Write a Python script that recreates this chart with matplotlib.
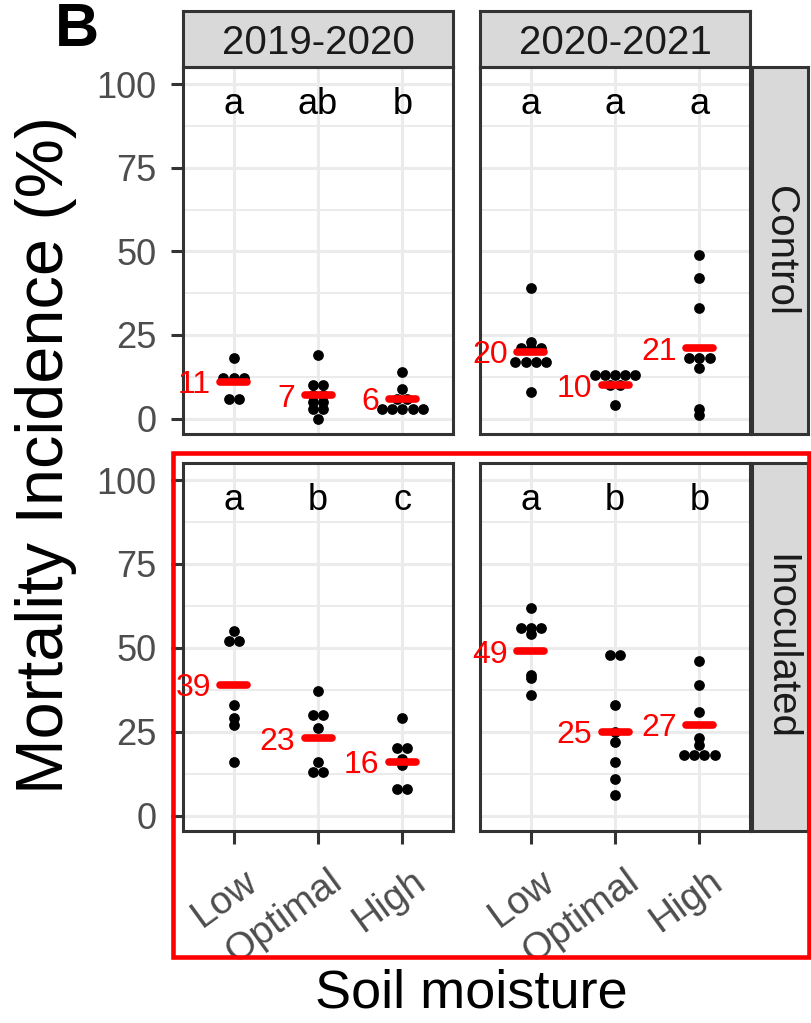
import numpy as np
import matplotlib.pyplot as plt
from matplotlib.patches import Rectangle
from matplotlib.transforms import ScaledTranslation

plt.rcParams['font.family'] = ['Liberation Sans', 'DejaVu Sans']

W, H = 812, 1023

years = ['2019-2020', '2020-2021']
treatments = ['Control', 'Inoculated']
moisture = ['Low', 'Optimal', 'High']

# mortality incidence (%) per plot, listed Low / Optimal / High
control_1920 = [[18, 12, 12, 12, 6, 6],
                [19, 10, 10, 7, 7, 5, 5, 3, 3, 0],
                [14, 9, 6, 6, 3, 3, 3, 3, 3]]
control_2021 = [[39, 23, 21, 21, 21, 17, 17, 17, 17, 8],
                [13, 13, 13, 13, 13, 10, 10, 4],
                [49, 42, 33, 18, 18, 18, 15, 3, 1]]
inoc_1920 = [[55, 52, 52, 33, 29, 27, 16],
             [37, 30, 30, 26, 16, 13, 13],
             [29, 20, 20, 17, 15, 8, 8]]
inoc_2021 = [[62, 56, 56, 56, 54, 42, 41, 36],
             [48, 48, 33, 25, 22, 16, 11, 6],
             [46, 39, 31, 23, 21, 18, 18, 18, 18]]

# means shown in red
means_control_1920 = [11, 7, 6]
means_control_2021 = [20, 10, 21]
means_inoc_1920 = [39, 23, 16]
means_inoc_2021 = [49, 25, 27]

# significance letters
letters_control_1920 = ['a', 'ab', 'b']
letters_control_2021 = ['a', 'a', 'a']
letters_inoc_1920 = ['a', 'b', 'c']
letters_inoc_2021 = ['a', 'b', 'b']

panels = {
    (0, 0): (control_1920, means_control_1920, letters_control_1920),
    (0, 1): (control_2021, means_control_2021, letters_control_2021),
    (1, 0): (inoc_1920, means_inoc_1920, letters_inoc_1920),
    (1, 1): (inoc_2021, means_inoc_2021, letters_inoc_2021),
}


def rect(x0, y0, x1, y1):
    return [x0 / W, 1 - y1 / H, (x1 - x0) / W, (y1 - y0) / H]


def swarm(x, vals, dx=0.12):
    vals = np.asarray(vals, dtype=float)
    xs = np.full(len(vals), float(x))
    for v in np.unique(vals):
        idx = np.where(vals == v)[0]
        n = len(idx)
        xs[idx] = x + (np.arange(n) - (n - 1) / 2) * dx
    return xs, vals


col_x = [(183, 453), (480, 750)]
row_y = [(67, 434), (463, 831)]
dark = '#333333'

fig = plt.figure(figsize=(W / 100, H / 100), dpi=100)

for (r, c), (groups, means, letters) in panels.items():
    x0, x1 = col_x[c]
    y0, y1 = row_y[r]
    ax = fig.add_axes(rect(x0, y0, x1, y1))
    ax.set_xlim(0.4, 3.6)
    ax.set_ylim(-4.6, 105.1)
    ax.set_yticks([0, 25, 50, 75, 100])
    ax.set_yticks([12.5, 37.5, 62.5, 87.5], minor=True)
    ax.set_xticks([1, 2, 3])
    ax.grid(True, which='major', color='#EBEBEB', lw=2.2)
    ax.grid(True, which='minor', axis='y', color='#EBEBEB', lw=1.4)
    ax.set_axisbelow(True)
    for s in ax.spines.values():
        s.set_color(dark)
        s.set_linewidth(2.2)

    for i, vals in enumerate(groups):
        xs, ys = swarm(i + 1, vals)
        ax.scatter(xs, ys, s=60, color='black', zorder=3, linewidths=0)
        ax.plot([i + 1 - 0.16, i + 1 + 0.16], [means[i], means[i]], color='red',
                lw=5.5, solid_capstyle='round', zorder=4)
        ax.text(i + 1 - 0.27, means[i], str(means[i]), color='red', fontsize=23,
                ha='right', va='center_baseline', zorder=5)
        ax.text(i + 1, 91, letters[i], color='black', fontsize=26,
                ha='center', va='baseline')

    ax.tick_params(axis='both', which='minor', length=0)
    ax.tick_params(axis='both', which='major', color=dark, width=2.2, length=9,
                   labelcolor='#4D4D4D', labelsize=26, pad=10)
    if c == 1:
        ax.tick_params(axis='y', which='major', length=0, labelleft=False)
    if r == 0:
        ax.tick_params(axis='x', which='major', length=0, labelbottom=False)
    else:
        ax.set_xticklabels(moisture, rotation=36, ha='right', va='top',
                           rotation_mode='anchor', fontsize=28)
        ax.tick_params(axis='x', pad=14)
        for lbl in ax.get_xticklabels():
            lbl.set_transform(lbl.get_transform() +
                              ScaledTranslation(9 / 100, 0, fig.dpi_scale_trans))

# strips
for c, yr in enumerate(years):
    x0, x1 = col_x[c]
    sax = fig.add_axes(rect(x0, 11, x1, 67))
    sax.set_facecolor('#D9D9D9')
    sax.set_xticks([])
    sax.set_yticks([])
    for s in sax.spines.values():
        s.set_color(dark)
        s.set_linewidth(2.2)
    sax.text(0.5, 0.5, yr, ha='center', va='center_baseline', fontsize=29,
             color='#1A1A1A', transform=sax.transAxes)

for r, tr in enumerate(treatments):
    y0, y1 = row_y[r]
    sax = fig.add_axes(rect(752, y0, 808, y1))
    sax.set_facecolor('#D9D9D9')
    sax.set_xticks([])
    sax.set_yticks([])
    for s in sax.spines.values():
        s.set_color(dark)
        s.set_linewidth(2.2)
    sax.text(0.5, 0.5, tr, ha='center', va='center', fontsize=29,
             color='#1A1A1A', rotation=270, transform=sax.transAxes)

fig.text(46 / W, 1 - 455 / H, 'Mortality Incidence (%)', rotation=90,
         ha='center', va='center', fontsize=48, color='black')
fig.text(471 / W, 1 - 993 / H, 'Soil moisture', ha='center', va='center',
         fontsize=39, color='black')
fig.text(55 / W, 1 - 30 / H, 'B', ha='left', va='center', fontsize=44,
         fontweight='bold', color='black')

fig.patches.append(Rectangle((173 / W, 1 - 957 / H), (809 - 173) / W, (957 - 453) / H,
                             transform=fig.transFigure, fill=False,
                             edgecolor='red', lw=3.3, zorder=10))

fig.savefig('out.png', dpi=100)
